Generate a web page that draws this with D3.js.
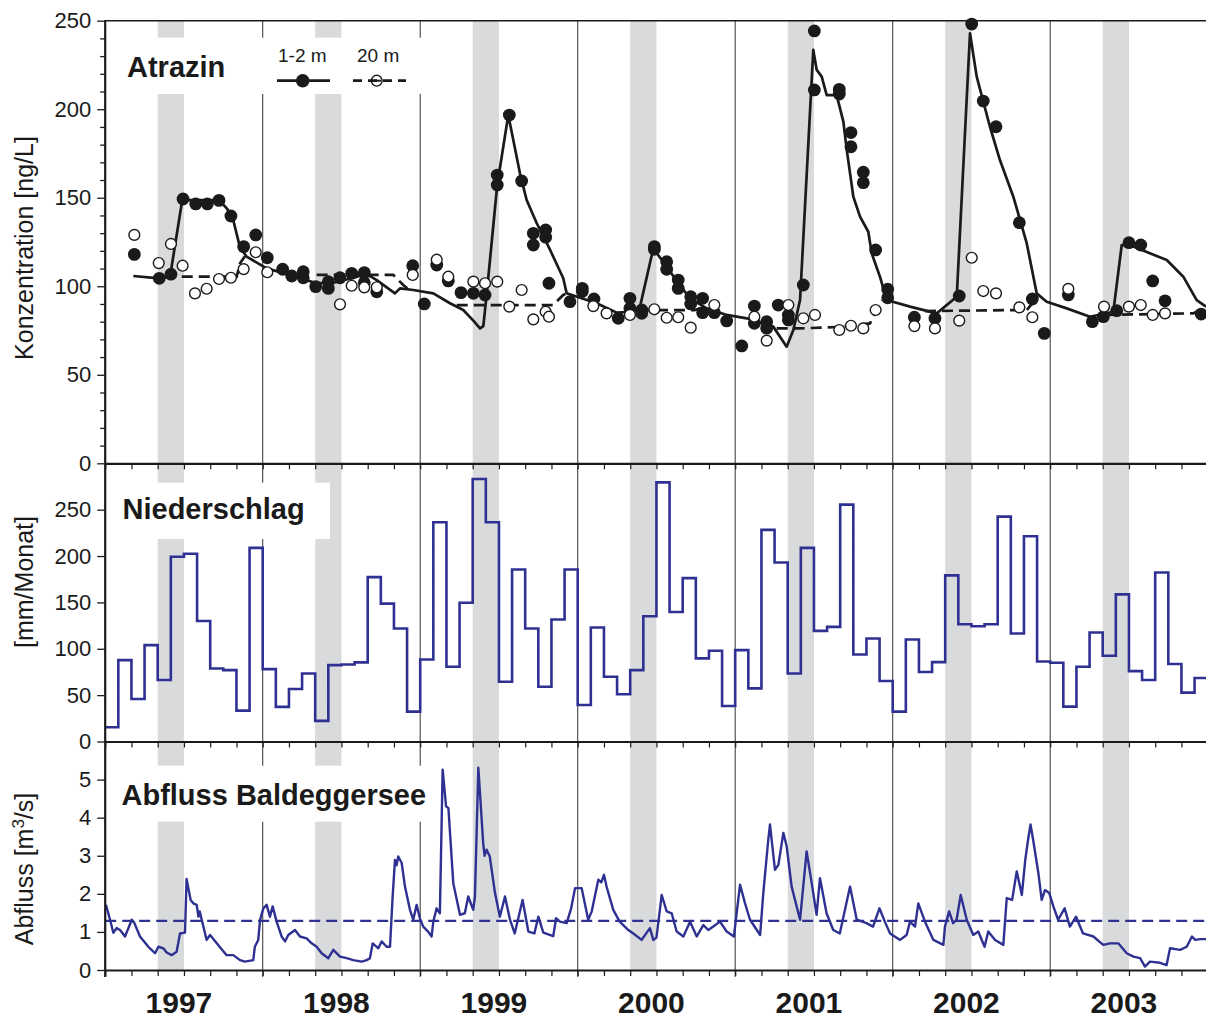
<!DOCTYPE html>
<html>
<head>
<meta charset="utf-8">
<script src="https://cdn.jsdelivr.net/npm/d3@7"></script>
<style>
  body { margin: 0; background: #fff; }
  svg { display: block; font-family: "Liberation Sans", Arial, Helvetica, sans-serif; }
</style>
</head>
<body>
<script>
// time is in months since Jan 1997

const years = [1997, 1998, 1999, 2000, 2001, 2002, 2003];

// monthly precipitation [mm/Monat], Jan 1997 .. Dec 2003
const rain = [
  15.4, 87.8, 45.8, 103.9, 66.3, 199.2, 202.4, 130, 78.8, 77, 33.3, 208.8,
  78.1, 37.3, 56.6, 73.4, 22.2, 82.4, 83.1, 85.3, 177.3, 148.7, 121.8, 32.2,
  88.5, 236.4, 80.6, 149.7, 283, 236.4, 64.5, 185.5, 121.8, 59.1, 131.5, 185.5,
  39.4, 122.9, 69.8, 50.9, 77, 135, 279.4, 139.7, 176.2, 89.6, 97.8, 38.3,
  98.5, 57.3, 228.2, 193.1, 73.4, 208.8, 119.3, 123.6, 255.4, 93.8, 111, 65.2,
  32.2, 110, 74.9, 85.6, 179.1, 126.4, 124.3, 126.4, 242.5, 116.4, 221.4, 86.3,
  84.9, 37.6, 80.6, 117.5, 92.4, 158.7, 75.9, 66.3, 182.3, 83.5, 52.7, 68.4
];

// discharge Baldeggersee [m3/s]: [month, value]
const flow = [
  [0.06,1.71],[0.37,1.32],[0.62,0.98],[0.87,1.10],[1.13,1.05],[1.51,0.88],[1.77,1.10],[2.02,1.32],[2.2,1.25],
  [2.65,0.88],[3.29,0.61],[3.8,0.44],[4.05,0.61],[4.43,0.57],[4.68,0.46],[5.06,0.39],[5.44,0.48],[5.7,0.96],
  [6.08,0.98],[6.2,2.39],[6.51,1.84],[6.71,1.75],[6.97,1.71],[7.1,1.40],[7.2,1.54],[7.48,1.14],[7.73,0.79],
  [7.99,0.92],[8.5,0.70],[9.25,0.39],[9.76,0.39],[10.27,0.26],[10.65,0.22],[11.28,0.26],[11.4,0.61],[11.66,0.79],
  [11.8,1.32],[12.05,1.62],[12.3,1.71],[12.55,1.40],[12.76,1.67],[13.06,1.27],[13.44,0.88],[13.7,0.75],[13.95,0.92],
  [14.46,1.05],[14.84,0.88],[15.35,0.83],[15.73,0.70],[16.11,0.61],[16.49,0.44],[17.0,0.31],[17.38,0.53],[17.89,0.35],
  [18.4,0.31],[18.9,0.26],[19.54,0.22],[19.92,0.26],[20.17,0.31],[20.38,0.70],[20.81,0.57],[21.06,0.75],[21.44,0.61],
  [21.7,0.61],[21.9,1.93],[22.08,2.89],[22.2,2.75],[22.33,2.98],[22.59,2.81],[22.84,2.19],[23.22,1.58],[23.47,1.32],
  [23.73,1.71],[23.98,1.35],[24.23,1.14],[24.62,1.0],[24.87,0.88],[25.0,1.27],[25.25,1.62],[25.5,1.49],[25.71,5.26],
  [25.97,4.30],[26.15,4.25],[26.52,2.28],[27.03,1.45],[27.4,1.49],[27.66,1.93],[28.04,1.58],[28.17,1.93],[28.43,5.31],
  [28.8,3.33],[28.9,3.0],[29.06,3.16],[29.3,2.98],[29.7,2.02],[30.07,1.40],[30.46,1.93],[30.84,1.32],[31.2,0.96],
  [31.8,1.84],[32.24,1.01],[32.7,0.96],[33.0,1.40],[33.38,0.98],[34.14,0.89],[34.35,1.36],[34.65,1.27],[35.16,1.23],
  [35.5,1.62],[35.8,2.15],[36.3,2.15],[36.8,1.32],[37.07,1.54],[37.57,2.37],[37.8,2.3],[38.0,2.50],[38.2,2.19],
  [38.71,1.58],[39.2,1.27],[39.86,1.05],[40.24,0.96],[40.87,0.79],[41.5,1.10],[41.76,0.79],[42.0,0.85],[42.4,1.97],
  [42.78,1.54],[43.16,1.49],[43.54,1.01],[44.05,0.88],[44.56,1.27],[45.07,0.88],[45.57,1.18],[45.95,1.05],[46.33,1.14],
  [46.84,1.27],[47.35,1.01],[47.9,0.88],[48.37,2.24],[48.75,1.75],[49.13,1.32],[49.9,0.92],[50.14,2.02],[50.52,3.42],
  [50.65,3.82],[51.03,2.63],[51.29,2.76],[51.67,3.60],[51.92,3.25],[52.3,2.19],[52.94,1.32],[53.44,3.11],[53.83,2.28],
  [54.2,1.45],[54.46,2.41],[54.96,1.49],[55.47,1.05],[55.97,0.96],[56.75,2.19],[57.26,1.32],[58.0,1.23],[58.5,1.14],
  [58.99,1.62],[59.4,1.27],[59.8,0.96],[60.56,0.79],[61.06,0.92],[61.32,1.27],[61.7,1.14],[61.95,1.75],[62.46,1.27],
  [63.1,0.79],[63.86,0.66],[63.98,1.14],[64.3,1.54],[64.6,1.23],[64.87,1.32],[65.18,1.97],[65.64,1.32],[66.14,0.92],
  [66.52,1.01],[67.0,0.61],[67.28,1.01],[67.8,0.79],[68.43,0.66],[68.69,1.89],[69.1,1.84],[69.45,2.59],[69.84,1.97],
  [70.1,2.89],[70.33,3.46],[70.5,3.82],[70.7,3.42],[71.1,2.54],[71.35,1.84],[71.6,2.10],[71.93,2.02],[72.24,1.67],
  [72.6,1.32],[73.1,1.62],[73.5,1.14],[73.97,1.40],[74.5,0.96],[75.29,0.88],[76.04,0.66],[76.56,0.70],[77.19,0.70],
  [77.83,0.44],[78.34,0.35],[78.85,0.31],[79.22,0.09],[79.6,0.22],[80.37,0.19],[80.87,0.13],[81.13,0.57],[81.9,0.53],
  [82.4,0.61],[82.8,0.88],[83.05,0.79],[83.43,0.81],[83.8,0.81],[84,0.82]
];
const flowMean = 1.29;

// atrazine measurements [ng/L] at 1-2 m depth: [month, value]
const atz12 = [
  [2.22,118],[4.12,104.5],[5.01,106.8],[5.93,149.3],[6.9,146.5],[7.78,146.5],[8.67,148.5],[9.58,139.7],
  [10.55,122.4],[11.47,129],[12.35,116.1],[13.52,109.6],[14.21,105.8],[15.09,108.2],[15.09,104.8],[16.04,99.8],
  [17.0,98.8],[17.0,102.6],[17.89,104.8],[18.78,107.3],[19.74,107.7],[19.74,102],[20.69,96.9],[23.43,111.6],
  [24.31,90],[25.26,112],[26.14,103],[27.11,96.4],[28.05,96],[28.94,95.1],[29.87,162.8],[29.87,157.2],
  [30.79,196.7],[31.73,159.5],[32.62,129.9],[32.62,123.3],[33.56,131.8],[33.56,127.7],[33.81,101.7],[35.41,91.3],
  [36.35,98.8],[36.35,97],[37.24,92.8],[39.09,81.9],[39.98,93.2],[39.98,87.5],[40.88,86.6],[40.88,84.7],
  [41.84,122.4],[41.84,120.9],[42.78,113.9],[42.78,109.6],[43.66,103.5],[43.66,98.8],[44.61,94.1],[44.61,90],
  [45.52,93.2],[45.52,85.1],[46.41,85.1],[47.35,80.4],[48.5,66.3],[49.46,88.8],[49.46,79.1],[50.4,80],
  [50.4,76.3],[51.28,89.4],[52.05,83.8],[52.05,81],[53.19,100.7],[54.03,210.9],[54.03,244.2],[55.93,211.2],
  [55.93,208.6],[56.82,186.8],[56.82,178.8],[57.76,164.4],[57.76,158.5],[58.7,120.5],[59.62,98.3],[59.62,93.5],
  [61.65,82.5],[63.22,81.9],[65.07,94.5],[66.02,248.1],[66.9,204.6],[67.87,190.1],[69.65,135.9],[70.64,92.8],
  [71.55,73.4],[73.38,95.1],[75.21,80],[76.05,82.8],[77.07,86.2],[78.0,124.6],[78.9,123.3],[79.81,103],
  [80.75,91.8],[83.5,84.3]
];

// atrazine measurements [ng/L] at 20 m depth
const atz20 = [
  [2.22,129],[4.08,113.1],[5.01,123.9],[5.9,111.6],[6.84,96],[7.73,98.6],[8.67,104.1],[9.58,104.8],
  [10.55,109.7],[11.47,119.2],[12.35,107.9],[17.89,89.8],[18.78,100.3],[19.74,99.4],[20.69,99.4],[23.43,106.4],
  [25.26,115],[26.14,105.4],[28.05,102.6],[28.94,101.7],[29.87,102.6],[30.79,88.5],[31.73,97.9],[32.62,81.3],
  [33.56,85.6],[33.81,82.8],[37.19,88.8],[38.2,84.7],[39.98,83.8],[41.84,87],[42.78,82.2],[43.66,82.5],
  [44.61,76.6],[46.41,89.4],[49.46,82.8],[50.4,69.3],[52.05,89.4],[53.19,81.9],[54.08,83.8],[55.93,75.3],
  [56.82,77.7],[57.76,76.2],[58.7,86.6],[61.65,77.5],[63.22,76.2],[65.07,80.6],[66.02,116.1],[66.9,97.3],
  [67.87,96],[69.65,88.1],[70.64,82.5],[73.38,98.5],[76.1,88.5],[78.0,88.5],[78.9,89.4],[79.81,83.8],[80.75,84.7]
];

// model 1-2 m (solid)
const model12 = [
  [2.14,105.8],[4.12,104.5],[4.94,105.4],[5.87,148.7],[8.67,148.7],[9.26,144],[9.68,139.7],[10.27,122],
  [10.78,116.7],[12.3,110.1],[14.08,106.4],[16.11,101.7],[17.38,102],[18.78,104.5],[19.92,106.9],[20.69,103.5],
  [22.08,96],[22.46,98.8],[23.47,97.9],[25.0,96],[26.27,90.4],[27.28,86.6],[28.05,80.6],[28.56,76.2],
  [28.81,77.5],[29.07,96],[29.87,157.2],[30.71,196.7],[31.6,163.8],[32.11,148.7],[32.88,135.6],[33.9,120.5],
  [34.9,104.5],[35.16,96],[36.18,93.5],[37.45,90.4],[38.97,85.1],[40.24,85.6],[40.75,88.5],[41.76,121.4],
  [42.78,111],[43.67,101.7],[44.56,93.2],[45.83,87.5],[47.35,83.8],[48.88,81.9],[50.9,77.2],[51.92,65.9],
  [52.43,75.3],[52.94,92.2],[53.95,233.5],[54.21,222.2],[54.59,218.4],[54.97,208],[55.73,208],[56.24,193],
  [56.5,177],[57.0,150.6],[57.51,139.3],[58.14,130.8],[58.4,118.6],[59.03,105.4],[59.54,92.2],[61.32,88.5],
  [63.35,84.7],[64.88,94.1],[65.89,242.9],[66.4,218.4],[67.41,190.1],[68.17,171.3],[69.19,150.6],[70.21,124.3],
  [70.97,96],[71.73,91.3],[73.26,87.5],[75.03,82.8],[76.81,85.6],[77.45,123.3],[78.33,122.4],[80.88,114.8],
  [82.14,105.4],[83.16,92.2],[83.87,88.5]
];

// model 20 m (dashed), null separates the stratified periods
const model20 = [
  [5.83,105.4],[10.02,105.4],[10.27,113],[10.65,117], null,
  [16.11,106.4],[21.95,106.4],[22.71,100.7],[23.07,98.5], null,
  [26.78,89.4],[34.12,89.4],[34.9,95.1],[35.16,96], null,
  [40.75,86.5],[44.9,86.5],[45.3,87.5], null,
  [51.16,76.2],[52.94,76.2],[55.98,77],[58.27,79],[58.73,86],[59.19,92], null,
  [62.46,86],[70.21,86.6],[70.77,91.5], null,
  [76.18,83.8],[82.9,84.7],[83.87,88.5]
];

const ticksA = [0, 50, 100, 150, 200, 250];
const minorA = d3.range(0, 251, 10).filter(v => v % 50 !== 0);
const ticksN = [0, 50, 100, 150, 200, 250];
const ticksQ = [0, 1, 2, 3, 4, 5];

const width = 1206, height = 1019;
const blue = "#2e3192";
const ink = "#1a1a1a";

const x = d3.scaleLinear().domain([0, 84]).range([105.2, 1207.7]);
const yA = d3.scaleLinear().domain([0, 250]).range([463.3, 20.7]);
const yN = d3.scaleLinear().domain([0, 300]).range([741.5, 463.3]);
const yQ = d3.scaleLinear().domain([0, 6]).range([970, 741.5]);

const svg = d3.select("body").append("svg")
  .attr("width", width)
  .attr("height", height);

// application season bands (May-June)
svg.append("g").selectAll("rect")
  .data(years.map((y, i) => i))
  .enter().append("rect")
  .attr("x", i => x(12 * i + 4))
  .attr("width", i => x(12 * i + 6) - x(12 * i + 4))
  .attr("y", yA(250))
  .attr("height", yQ(0) - yA(250))
  .attr("fill", "#d9dadc");

// year boundaries
svg.append("g").selectAll("line")
  .data(d3.range(12, 84, 12))
  .enter().append("line")
  .attr("x1", d => x(d)).attr("x2", d => x(d))
  .attr("y1", yA(250)).attr("y2", 977)
  .attr("stroke", "#444").attr("stroke-width", 1.1);

// white boxes behind titles
[[106.5, 37.7, 421, 94], [106.5, 482.7, 330, 539], [106.5, 765.7, 437, 821.7]].forEach(b => {
  svg.append("rect").attr("x", b[0]).attr("y", b[1])
    .attr("width", b[2] - b[0]).attr("height", b[3] - b[1]).attr("fill", "#fff");
});

// precipitation steps
const rainPts = rain.map((v, i) => [i, v]);
rainPts.push([84, rain[rain.length - 1]]);
svg.append("path")
  .datum(rainPts)
  .attr("fill", "none").attr("stroke", blue).attr("stroke-width", 2.6)
  .attr("d", d3.line().curve(d3.curveStepAfter).x(d => x(d[0])).y(d => yN(d[1])));

// discharge
svg.append("line")
  .attr("x1", x(0)).attr("x2", width)
  .attr("y1", yQ(flowMean)).attr("y2", yQ(flowMean))
  .attr("stroke", blue).attr("stroke-width", 2.2).attr("stroke-dasharray", "11,6");
svg.append("path")
  .datum(flow)
  .attr("fill", "none").attr("stroke", blue).attr("stroke-width", 2.4)
  .attr("stroke-linejoin", "round")
  .attr("d", d3.line().x(d => x(d[0])).y(d => yQ(d[1])));

// atrazine models
const lineA = d3.line().defined(d => d !== null).x(d => x(d[0])).y(d => yA(d[1]));
svg.append("path").datum(model12)
  .attr("fill", "none").attr("stroke", ink).attr("stroke-width", 2.7)
  .attr("stroke-linejoin", "round").attr("d", lineA);
svg.append("path").datum(model20)
  .attr("fill", "none").attr("stroke", ink).attr("stroke-width", 2.7)
  .attr("stroke-dasharray", "11,6").attr("d", lineA);

// atrazine measurements
svg.append("g").selectAll("circle")
  .data(atz12).enter().append("circle")
  .attr("cx", d => x(d[0])).attr("cy", d => yA(d[1]))
  .attr("r", 6.4).attr("fill", ink);
svg.append("g").selectAll("circle")
  .data(atz20).enter().append("circle")
  .attr("cx", d => x(d[0])).attr("cy", d => yA(d[1]))
  .attr("r", 5.4).attr("fill", "#fff").attr("stroke", ink).attr("stroke-width", 1.4);

// axes
function bottomAxis(yPos) {
  const g = svg.append("g")
    .attr("transform", `translate(0,${yPos})`)
    .call(d3.axisBottom(x).tickValues(d3.range(0, 85, 2)).tickSize(6).tickSizeOuter(0).tickFormat(""));
  g.select(".domain").attr("stroke", ink).attr("stroke-width", 2.2);
  g.selectAll(".tick line").attr("stroke", ink).attr("stroke-width", 1.2);
  return g;
}
bottomAxis(yA(0));
bottomAxis(yN(0));
bottomAxis(yQ(0));

svg.append("line")
  .attr("x1", x(0)).attr("x2", width)
  .attr("y1", yA(250)).attr("y2", yA(250))
  .attr("stroke", ink).attr("stroke-width", 1.6);

function leftAxis(scale, values, size, labels) {
  const ax = d3.axisLeft(scale).tickValues(values).tickSize(size).tickSizeOuter(0).tickPadding(6);
  ax.tickFormat(labels ? d3.format("d") : "");
  const g = svg.append("g").attr("transform", `translate(${x(0)},0)`).call(ax);
  g.select(".domain").remove();
  g.selectAll(".tick line").attr("stroke", ink).attr("stroke-width", 1.3);
  g.selectAll(".tick text").attr("fill", ink).attr("font-size", 22)
    .attr("font-family", '"Liberation Sans", Arial, sans-serif');
}
leftAxis(yA, ticksA, 8, true);
leftAxis(yA, minorA, 5, false);
leftAxis(yN, ticksN, 8, true);
leftAxis(yQ, ticksQ, 8, true);

svg.append("line")
  .attr("x1", x(0)).attr("x2", x(0))
  .attr("y1", yA(250) - 0.8).attr("y2", 977)
  .attr("stroke", ink).attr("stroke-width", 2.2);

// axis titles
function yTitle(yc, txt) {
  return svg.append("text")
    .attr("transform", `translate(33,${yc}) rotate(-90)`)
    .attr("text-anchor", "middle").attr("font-size", 25).attr("fill", ink)
    .text(txt);
}
yTitle(248, "Konzentration [ng/L]");
yTitle(582, "[mm/Monat]");
const qt = yTitle(869, "Abfluss [m");
qt.append("tspan").attr("font-size", 17).attr("dy", -9).text("3");
qt.append("tspan").attr("dy", 9).text("/s]");

// panel titles
[["Atrazin", 127, 77], ["Niederschlag", 122.5, 519], ["Abfluss Baldeggersee", 121.5, 805]].forEach(t => {
  svg.append("text").attr("x", t[1]).attr("y", t[2])
    .attr("font-size", 29).attr("font-weight", "bold").attr("fill", ink).text(t[0]);
});

// legend
svg.append("text").attr("x", 278).attr("y", 62).attr("font-size", 19).attr("fill", ink).text("1-2 m");
svg.append("text").attr("x", 357).attr("y", 62).attr("font-size", 19).attr("fill", ink).text("20 m");
svg.append("line").attr("x1", 277).attr("x2", 330).attr("y1", 80.7).attr("y2", 80.7)
  .attr("stroke", ink).attr("stroke-width", 2.7);
svg.append("circle").attr("cx", 302.7).attr("cy", 80.7).attr("r", 6.8).attr("fill", ink);
svg.append("circle").attr("cx", 376.7).attr("cy", 80.7).attr("r", 5.4)
  .attr("fill", "#fff").attr("stroke", ink).attr("stroke-width", 1.4);
svg.append("line").attr("x1", 353).attr("x2", 406).attr("y1", 80.7).attr("y2", 80.7)
  .attr("stroke", ink).attr("stroke-width", 2.7).attr("stroke-dasharray", "9,6");
svg.append("line").attr("x1", 372).attr("x2", 381).attr("y1", 80.7).attr("y2", 80.7)
  .attr("stroke", ink).attr("stroke-width", 2);

// year labels
svg.append("g").selectAll("text")
  .data(years).enter().append("text")
  .attr("x", (d, i) => x(12 * i + 6) - 5)
  .attr("y", 1013)
  .attr("text-anchor", "middle").attr("font-size", 30).attr("font-weight", "bold").attr("fill", ink)
  .text(d => d);
</script>
</body>
</html>
